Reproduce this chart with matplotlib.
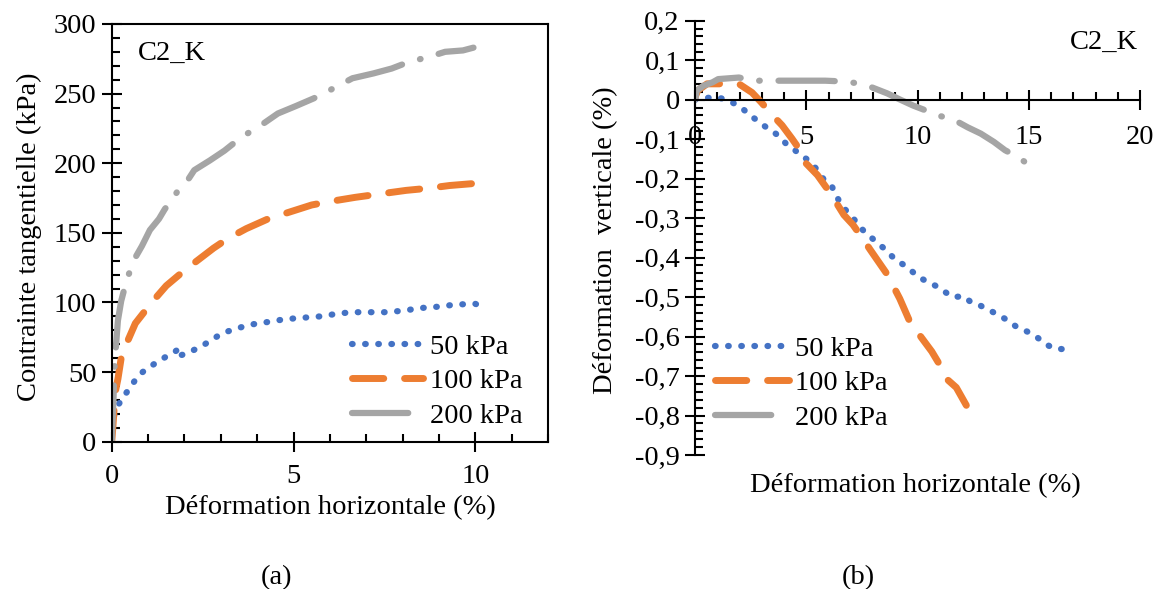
import matplotlib
matplotlib.use("Agg")
import matplotlib.pyplot as plt
from matplotlib.ticker import MultipleLocator, FuncFormatter

plt.rcParams['font.family'] = ['Liberation Serif', 'DejaVu Serif']

bleu = '#4472C4'
orange = '#ED7D31'
gris = '#A5A5A5'

# (a) contrainte tangentielle vs deformation horizontale
x50_a = [0, 0.05, 0.17, 0.31, 0.48, 0.64, 0.8, 1.0, 1.24, 1.49, 1.73, 1.86, 1.88, 2.03, 2.27, 2.5,
         2.8, 3.05, 3.4, 3.8, 4.3, 4.77, 5.25, 5.74, 6.23, 6.6, 7.0, 7.5, 8.0, 8.5, 9.0, 9.46, 10.0, 10.1]
y50_a = [0, 17.7, 26, 31.7, 38, 44, 49, 53, 57, 61, 64.5, 67, 62, 63, 66, 69,
         74, 78, 81, 84, 86, 88, 89, 90, 92, 93, 93, 93, 94, 96, 97, 98.5, 99, 98]
x100_a = [0, 0.03, 0.07, 0.1, 0.17, 0.26, 0.4, 0.65, 0.95, 1.2, 1.5, 2.0, 2.4, 2.8, 3.2, 3.7,
          4.3, 4.9, 5.5, 6.0, 6.7, 7.4, 8.1, 8.7, 9.3, 10.0]
y100_a = [0, 10, 25, 36, 45, 60, 70, 85, 95, 103, 112, 123, 131, 139, 146, 153,
          160, 165, 170, 172.5, 175.5, 178, 180.5, 182, 184, 185.5]
x200_a = [0, 0.05, 0.07, 0.12, 0.17, 0.26, 0.4, 0.6, 0.83, 1.05, 1.3, 1.46, 1.66, 1.83, 2.03, 2.27,
          2.7, 3.1, 3.6, 3.98, 4.57, 5.06, 5.55, 6.04, 6.62, 7.2, 7.7, 8.2, 8.68, 9.17, 9.66, 9.95]
y200_a = [0, 32, 51, 70, 87, 101, 115, 130, 140.5, 152, 160, 167, 174, 180.6, 185.4, 195,
          202, 209, 219.4, 225, 235.7, 241, 246.5, 253, 261, 264.5, 268, 273, 276, 280, 281, 283]

# (b) deformation verticale vs deformation horizontale
x50_b = [0, 0.42, 0.96, 1.43, 1.8, 2.14, 2.48, 2.8, 3.15, 3.49, 3.82, 4.08, 4.41, 4.75, 5.09, 5.43,
         5.81, 6.15, 6.52, 6.82, 7.1, 7.6, 8.04, 8.54, 9.05, 9.47, 10.06, 10.9, 11.57, 12.08, 12.4,
         12.8, 13.26, 13.93, 14.44, 14.95, 15.28, 15.79, 16.12, 16.55]
y50_b = [0, 0.004, 0.006, 0, -0.011, -0.023, -0.04, -0.053, -0.068, -0.08, -0.095, -0.111, -0.124,
         -0.141, -0.153, -0.174, -0.204, -0.22, -0.262, -0.283, -0.3, -0.334, -0.355, -0.379, -0.408,
         -0.421, -0.45, -0.474, -0.5, -0.498, -0.513, -0.521, -0.534, -0.555, -0.575, -0.588, -0.598,
         -0.62, -0.63, -0.632]
x100_b = [0, 0.12, 0.54, 1.47, 1.97, 2.56, 2.98, 3.49, 3.91, 4.36, 4.67, 5.0, 5.5, 5.93, 6.27, 6.69,
          7.1, 7.62, 7.87, 8.63, 9.2, 9.72, 10.14, 10.64, 10.98, 11.32, 11.74, 12.08, 12.5]
y100_b = [0.006, 0.023, 0.04, 0.04, 0.04, 0.018, -0.007, -0.04, -0.065, -0.099, -0.124, -0.162,
          -0.191, -0.225, -0.254, -0.292, -0.317, -0.359, -0.38, -0.442, -0.504, -0.571, -0.6, -0.638,
          -0.67, -0.708, -0.729, -0.763, -0.805]
x200_b = [0, 0.08, 0.37, 0.79, 1.04, 1.97, 2.65, 3.49, 4.84, 5.85, 6.69, 7.36, 7.95, 8.63, 9.22, 9.8,
          10.4, 10.9, 11.57, 12.25, 12.84, 13.43, 13.93, 14.36, 14.86]
y200_b = [0, 0.023, 0.035, 0.044, 0.052, 0.056, 0.048, 0.048, 0.048, 0.048, 0.046, 0.041, 0.031,
          0.016, 0, -0.015, -0.028, -0.04, -0.049, -0.07, -0.086, -0.107, -0.128, -0.141, -0.159]

labels = ['50 kPa', '100 kPa', '200 kPa']
fs = 20.5

fig = plt.figure(figsize=(11.65, 5.89), dpi=100)
ax1 = fig.add_axes([0.0959, 0.2501, 0.3745, 0.7092])
ax2 = fig.add_axes([0.5966, 0.2275, 0.382, 0.7374])

styles = [dict(color=bleu, lw=4.5, ls=(0, (0.1, 2.0)), dash_capstyle='round'),
          dict(color=orange, lw=5, ls=(0, (4.5, 3)), dash_capstyle='round'),
          dict(color=gris, lw=4.5, ls=(0, (9, 3, 0.1, 3)), dash_capstyle='round')]

for x, y, st, lab in zip([x50_a, x100_a, x200_a], [y50_a, y100_a, y200_a], styles, labels):
    ax1.plot(x, y, label=lab, **st)
for x, y, st, lab in zip([x50_b, x100_b, x200_b], [y50_b, y100_b, y200_b], styles, labels):
    ax2.plot(x, y, label=lab, **st)

# panneau (a)
ax1.set_xlim(0, 12)
ax1.set_ylim(0, 300)
ax1.xaxis.set_major_locator(MultipleLocator(5))
ax1.xaxis.set_minor_locator(MultipleLocator(1))
ax1.yaxis.set_major_locator(MultipleLocator(50))
ax1.yaxis.set_minor_locator(MultipleLocator(10))
ax1.set_xticks([0, 5, 10])
ax1.tick_params(which='major', direction='inout', length=14, width=1.5, labelsize=fs, pad=4)
ax1.tick_params(which='minor', direction='in', length=6, width=1.5)
ax1.tick_params(axis='x', which='major', pad=9)
for s in ax1.spines.values():
    s.set_linewidth(1.5)
ax1.text(0.06, 0.93, 'C2_K', transform=ax1.transAxes, fontsize=fs, va='center')
ax1.legend(loc='center left', bbox_to_anchor=(0.302, 0.353), bbox_transform=fig.transFigure,
           frameon=False, fontsize=fs, borderpad=0, borderaxespad=0,
           handlelength=2.5, handletextpad=0.25, labelspacing=0.3)
fig.text(0.025, 0.598, 'Contrainte tangentielle (kPa)', rotation=90, ha='center', va='center', fontsize=fs)
fig.text(0.284, 0.139, 'Déformation horizontale (%)', ha='center', va='center', fontsize=fs)

# panneau (b)
ax2.set_xlim(0, 20)
ax2.set_ylim(-0.9, 0.2)
ax2.spines['top'].set_visible(False)
ax2.spines['right'].set_visible(False)
ax2.spines['bottom'].set_position(('data', 0))
for s in ax2.spines.values():
    s.set_linewidth(1.5)
ax2.xaxis.set_major_locator(MultipleLocator(5))
ax2.xaxis.set_minor_locator(MultipleLocator(1))
ax2.yaxis.set_major_locator(MultipleLocator(0.1))
ax2.yaxis.set_minor_locator(MultipleLocator(0.02))
ax2.yaxis.set_major_formatter(FuncFormatter(lambda v, p: ('%.1f' % v).replace('.', ',').replace('-0,0', '0').replace('0,0', '0')))
ax2.tick_params(which='major', direction='inout', length=14, width=1.5, labelsize=fs, pad=4)
ax2.tick_params(which='minor', direction='in', length=6, width=1.5)
ax2.tick_params(axis='x', which='major', pad=11)
ax2.text(0.995, 0.95, 'C2_K', transform=ax2.transAxes, fontsize=fs, ha='right', va='center')
ax2.legend(loc='center left', bbox_to_anchor=(0.614, 0.349), bbox_transform=fig.transFigure,
           frameon=False, fontsize=fs, borderpad=0, borderaxespad=0,
           handlelength=2.6, handletextpad=0.2, labelspacing=0.3)
fig.text(0.520, 0.593, 'Déformation  verticale (%)', rotation=90, ha='center', va='center', fontsize=fs)
fig.text(0.786, 0.175, 'Déformation horizontale (%)', ha='center', va='center', fontsize=fs)

fig.text(0.237, 0.019, '(a)', ha='center', va='center', fontsize=fs)
fig.text(0.737, 0.019, '(b)', ha='center', va='center', fontsize=fs)

fig.savefig('out.png', dpi=100)
